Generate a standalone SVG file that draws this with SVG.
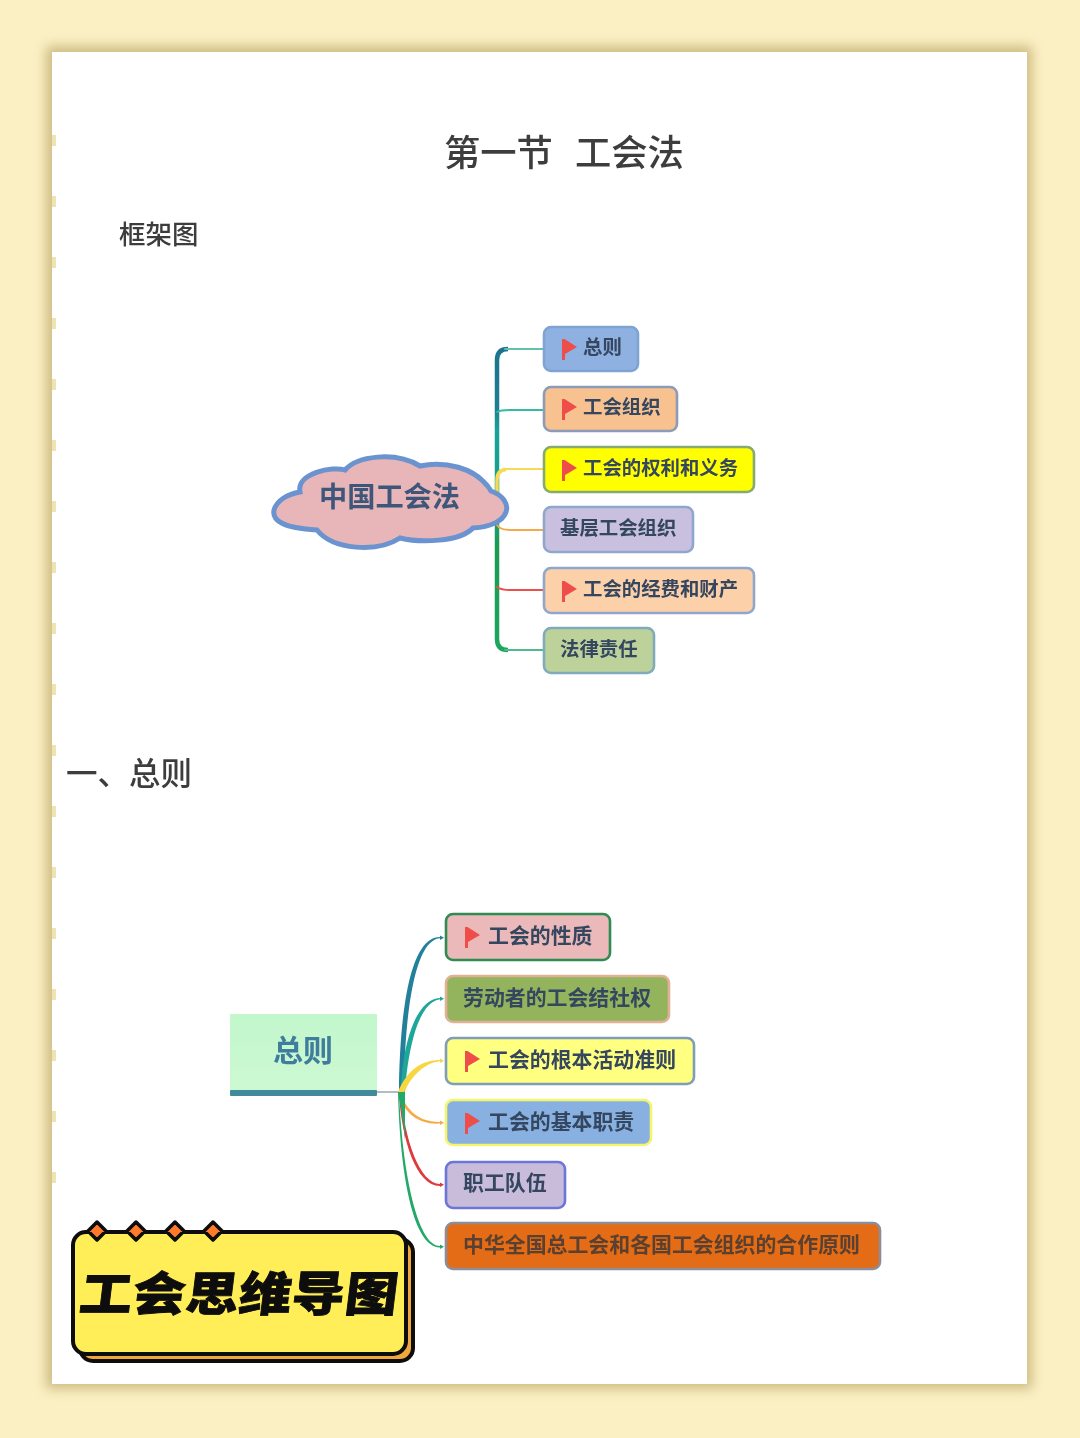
<svg xmlns="http://www.w3.org/2000/svg" width="1080" height="1438" viewBox="0 0 1080 1438">
<defs>
<filter id="soft" x="-5%" y="-5%" width="110%" height="110%"><feGaussianBlur stdDeviation="0.7"/></filter>
<filter id="shadow" x="-5%" y="-5%" width="110%" height="110%"><feGaussianBlur stdDeviation="6"/></filter>
<linearGradient id="trunk" x1="0" y1="349" x2="0" y2="650" gradientUnits="userSpaceOnUse">
<stop offset="0" stop-color="#1f7390"/><stop offset="0.2" stop-color="#1f7f93"/><stop offset="0.27" stop-color="#17a39a"/><stop offset="0.55" stop-color="#17a080"/><stop offset="0.65" stop-color="#1f9a50"/><stop offset="1" stop-color="#1fa75c"/>
</linearGradient>
<linearGradient id="rootfill" x1="0" y1="0" x2="0" y2="1"><stop offset="0" stop-color="#c2f7cc"/><stop offset="1" stop-color="#cdf9d2"/></linearGradient>
<path id="flag" d="M0 0 L2.500 0 L15 8 L3 15 L3 21 L0 21 Z"/>
</defs>
<style>
text{font-family:"Noto Sans CJK SC","Noto Sans",sans-serif}
.head{fill:#3c3c3c;font-weight:500}
.n{fill:#34465f;font-weight:700;font-size:19.400px}
.m{fill:#34465f;font-weight:700;font-size:20.900px}
.flag{fill:#ee4d48}
.box{stroke-width:2.600}
.thin{fill:none;stroke-width:1.800;stroke-linecap:round}
.badge{stroke:#0a0a0a;stroke-width:4;stroke-linejoin:round}
</style>
<rect width="1080" height="1438" fill="#fbf0c4"/>
<rect x="46" y="46" width="986" height="1343" fill="#b09a58" opacity="0.6" filter="url(#shadow)"/>
<rect x="52" y="52" width="975" height="1332" fill="#ffffff"/>
<g id="page-edge" fill="#f0e3b2">
<rect x="52" y="135" width="4" height="11"/><rect x="52" y="196" width="4" height="11"/><rect x="52" y="257" width="4" height="11"/><rect x="52" y="318" width="4" height="11"/><rect x="52" y="379" width="4" height="11"/><rect x="52" y="440" width="4" height="11"/><rect x="52" y="501" width="4" height="11"/><rect x="52" y="562" width="4" height="11"/><rect x="52" y="623" width="4" height="11"/><rect x="52" y="684" width="4" height="11"/><rect x="52" y="745" width="4" height="11"/><rect x="52" y="806" width="4" height="11"/><rect x="52" y="867" width="4" height="11"/><rect x="52" y="928" width="4" height="11"/><rect x="52" y="989" width="4" height="11"/><rect x="52" y="1050" width="4" height="11"/><rect x="52" y="1111" width="4" height="11"/><rect x="52" y="1172" width="4" height="11"/>
</g>
<g id="headings" filter="url(#soft)">
<text class="head" x="444" y="166" font-size="36.300">第一节<tspan x="575">工会法</tspan></text>
<text class="head" x="119" y="244" font-size="26.500">框架图</text>
<text class="head" x="66" y="785" font-size="31.500">一、总则</text>
</g>
<g filter="url(#soft)">
<g id="connectors-top">
<path d="M508 349 Q497 349 497 360 L497 639 Q497 650 508 650" fill="none" stroke="url(#trunk)" stroke-width="4.500"/>
<path d="M505 349 H543" class="thin" stroke="#62c0ad"/>
<path d="M497 412 Q500 410 510 410 H543" class="thin" stroke="#35bba3"/>
<path d="M497 495 V480 Q497 470 506 469.500" fill="none" stroke="#f7da52" stroke-width="3.500"/>
<path d="M504 469 H543" class="thin" stroke="#f7da52"/>
<path d="M497 525 Q500 530 510 530 H543" class="thin" stroke="#f5a94a"/>
<path d="M497 587 Q501 590 510 590 H543" class="thin" stroke="#ea4f4b"/>
<path d="M505 650 H543" class="thin" stroke="#4fbb8c"/>
</g>
<g id="cloud">
<path d="M274 510 C277 500 288 494 300 492 C296 473 333 466 345 470 C357 456 395 451 420 466 C442 461 476 466 491 491 C516 500 512 526 473 528 C460 542 420 543 400 538 C377 553 333 550 317 530 C282 528 272 520 274 510 Z" fill="#e8b6b8" stroke="#6b93cf" stroke-width="5"/>
<text x="319" y="507" font-size="28.200" font-weight="700" fill="#3e5679">中国工会法</text>
</g>
<g id="n1"><rect class="box" x="544" y="327" width="94" height="44" rx="7" fill="#8fb1e2" stroke="#7fa3d2"/><use href="#flag" class="flag" x="562" y="339"/><text class="n" x="583" y="354">总则</text></g>
<g id="n2"><rect class="box" x="544" y="387" width="133" height="44" rx="7" fill="#f8c190" stroke="#8d9cb6"/><use href="#flag" class="flag" x="562" y="399"/><text class="n" x="583" y="414">工会组织</text></g>
<g id="n3"><rect class="box" x="544" y="447" width="210" height="45" rx="7" fill="#ffff00" stroke="#87a972"/><use href="#flag" class="flag" x="562" y="460"/><text class="n" x="583" y="475">工会的权利和义务</text></g>
<g id="n4"><rect class="box" x="544" y="507" width="149" height="45" rx="7" fill="#c9c0df" stroke="#8fa6cd"/><text class="n" x="560" y="535">基层工会组织</text></g>
<g id="n5"><rect class="box" x="544" y="568" width="210" height="45" rx="7" fill="#fcd1aa" stroke="#8fa6cd"/><use href="#flag" class="flag" x="562" y="581"/><text class="n" x="583" y="596">工会的经费和财产</text></g>
<g id="n6"><rect class="box" x="544" y="628" width="110" height="45" rx="7" fill="#bdd29b" stroke="#7fabba"/><text class="n" x="560" y="656">法律责任</text></g>
<g id="connectors-bottom">
<path d="M377 1092 H402" stroke="#b5bcc0" stroke-width="2" fill="none"/>
<path d="M399 1092 C400 1010 410 937 440 937 L440 938.300 C415 940 405 1010 404 1092 Z" fill="#23809a"/>
<path d="M401 1092 C402 1050 414 999 440 998 L440 999.300 C418 1002 408 1050 405 1092 Z" fill="#1fa79a"/>
<path d="M398 1092 C403 1080 414 1060 440 1060 L440 1061.300 C422 1063 409 1080 403 1095 Z" fill="#f7d640"/>
<path d="M400 1092 C405 1105 414 1122 440 1122 L440 1123.500 C420 1125 406 1114 401 1100 Z" fill="#f5aa45"/>
<path d="M401 1092 C404 1140 420 1184 440 1184 L440 1186 C416 1186 402 1140 399 1095 Z" fill="#dd3a3d"/>
<path d="M399 1092 C402 1170 417 1246 440 1246 L440 1247.500 C412 1247 400 1170 398 1092 Z M398 1092 H405 V1140 C404 1130 402 1110 398 1092 Z" fill="#22a968"/>
<path d="M440 935.500 L444 937.700 L440 940 Z" fill="#23809a"/>
<path d="M440 996.500 L444 998.700 L440 1001 Z" fill="#1fa79a"/>
<path d="M440 1058.500 L444 1060.700 L440 1063 Z" fill="#f7d640"/>
<path d="M440 1120.500 L444 1122.700 L440 1125 Z" fill="#f5aa45"/>
<path d="M440 1182.500 L444 1184.700 L440 1187 Z" fill="#dd3a3d"/>
<path d="M440 1244.500 L444 1246.700 L440 1249 Z" fill="#22a968"/>
</g>
<g id="root2"><rect x="230" y="1014" width="147" height="77" fill="url(#rootfill)"/><rect x="230" y="1090" width="147" height="6" rx="1" fill="#3f8a9c"/><text x="273" y="1061" font-size="30" font-weight="700" fill="#3f7c9e">总则</text></g>
<g id="m1"><rect class="box" x="446" y="914" width="164" height="46" rx="7" fill="#ebb9b9" stroke="#2f8b52"/><use href="#flag" class="flag" x="465" y="927"/><text class="m" x="488" y="943">工会的性质</text></g>
<g id="m2"><rect class="box" x="446" y="976" width="223" height="46" rx="7" fill="#93b45c" stroke="#e0b195"/><text class="m" x="463" y="1005">劳动者的工会结社权</text></g>
<g id="m3"><rect class="box" x="446" y="1038" width="248" height="46" rx="7" fill="#ffff80" stroke="#7e9db9"/><use href="#flag" class="flag" x="465" y="1051"/><text class="m" x="488" y="1067">工会的根本活动准则</text></g>
<g id="m4"><rect class="box" x="446" y="1100" width="205" height="45" rx="7" fill="#88b0e0" stroke="#f4f56c"/><use href="#flag" class="flag" x="465" y="1113"/><text class="m" x="488" y="1129">工会的基本职责</text></g>
<g id="m5"><rect class="box" x="446" y="1162" width="119" height="46" rx="7" fill="#c9bcda" stroke="#6b76d8"/><text class="m" x="463" y="1190">职工队伍</text></g>
<g id="m6"><rect class="box" x="446" y="1223" width="434" height="46" rx="7" fill="#e56c12" stroke="#8d8d9a"/><text class="m" x="463" y="1252" style="fill:#5a4030">中华全国总工会和各国工会组织的合作原则</text></g>
</g>
<g id="badge" filter="url(#soft)">
<rect class="badge" x="80" y="1239" width="333" height="122" rx="13" fill="#f0a83c"/>
<rect class="badge" x="73" y="1232" width="333" height="122" rx="13" fill="#ffee58"/>
<path class="badge" style="stroke-width:3.500" d="M97 1222 L106 1231 L97 1240 L88 1231 Z M136 1222 L145 1231 L136 1240 L127 1231 Z M175 1222 L184 1231 L175 1240 L166 1231 Z M213 1222 L222 1231 L213 1240 L204 1231 Z" fill="#ff7a2c"/>
<text transform="translate(78 1311) skewX(-7) scale(1.120 1)" font-size="47" font-weight="900" fill="#0a0a0a" stroke="#0a0a0a" stroke-width="0.800" textLength="284" lengthAdjust="spacing">工会思维导图</text>
</g>
</svg>
